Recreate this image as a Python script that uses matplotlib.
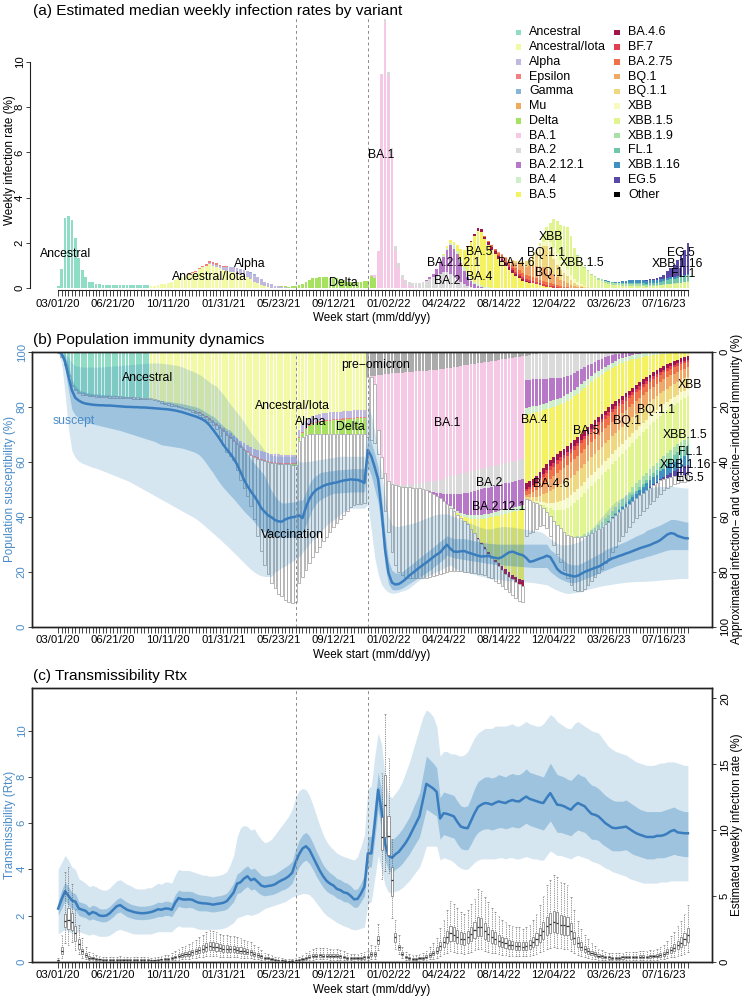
import numpy as np
import matplotlib
matplotlib.use("Agg")
import matplotlib.pyplot as plt
from matplotlib.patches import Rectangle

plt.rcParams['font.family'] = ['Liberation Sans', 'DejaVu Sans']

# ---------------------------------------------------------------- axes data
N_WEEKS = 184                       # weekly bins starting 03/01/20
TICK_WEEKS = [0, 16, 32, 48, 64, 80, 96, 112, 128, 144, 160, 176]
TICK_LABELS = ['03/01/20', '06/21/20', '10/11/20', '01/31/21', '05/23/21', '09/12/21',
               '01/02/22', '04/24/22', '08/14/22', '12/04/22', '03/26/23', '07/16/23']
ERA_LINES = [69, 90]

VARIANTS = ['Ancestral', 'Ancestral/Iota', 'Alpha', 'Epsilon', 'Gamma', 'Mu', 'Delta',
            'BA.1', 'BA.2', 'BA.2.12.1', 'BA.4', 'BA.5', 'BA.4.6', 'BF.7', 'BA.2.75',
            'BQ.1', 'BQ.1.1', 'XBB', 'XBB.1.5', 'XBB.1.9', 'FL.1', 'XBB.1.16', 'EG.5', 'Other']
VARIANT_COLORS = ['#8FDDC5', '#F3FAA5', '#C0B8DE', '#F28080', '#86B5D8', '#F0AA60', '#A6E260',
                  '#F5C8E5', '#DADADA', '#B878C8', '#CDF0CA', '#F4F260', '#A0154A', '#E04050',
                  '#F07048', '#F0A868', '#F0D880', '#F6FAC0', '#E0F590', '#A8E0A8', '#70C8A8',
                  '#4090C0', '#5848A8', '#000000']
PRE_OMICRON_COLOR = '#ABABAB'

# ---------------------------------------------------------------- (a) weekly infection rate by variant (%)
RATE_ANCESTRAL_START = 0
RATE_ANCESTRAL = [0.1, 0.85, 3.1, 3.2, 3.0, 2.2, 1.35, 0.8, 0.5, 0.3,
                  0.27, 0.2, 0.17, 0.15, 0.14, 0.14, 0.15, 0.15, 0.16, 0.15,
                  0.15, 0.15, 0.14, 0.15, 0.14, 0.15, 0.15]
RATE_ANC_IOTA_START = 27
RATE_ANC_IOTA = [0.1, 0.12, 0.15, 0.18, 0.2, 0.22, 0.28, 0.35, 0.45, 0.5,
                 0.55, 0.6, 0.67, 0.74, 0.84, 0.92, 1.0, 1.08, 1.0, 0.95,
                 0.88, 0.82, 0.78, 0.74, 0.72, 0.66, 0.6, 0.54, 0.48, 0.4,
                 0.3, 0.22, 0.15, 0.09, 0.05, 0.03]
RATE_EPSILON_START = 38
RATE_EPSILON = [0.02, 0.03, 0.04, 0.05, 0.06, 0.07, 0.08, 0.08, 0.07, 0.06, 0.05, 0.04, 0.03, 0.02, 0.01]
RATE_ALPHA_START = 44
RATE_ALPHA = [0.04, 0.07, 0.08, 0.11, 0.13, 0.16, 0.18, 0.21, 0.23, 0.25,
              0.26, 0.27, 0.29, 0.29, 0.27, 0.24, 0.19, 0.17, 0.14, 0.11,
              0.09, 0.07, 0.05, 0.03, 0.02]
RATE_GAMMA_START = 53
RATE_GAMMA = [0.01, 0.02, 0.02, 0.02, 0.02, 0.02, 0.01, 0.01, 0.01]
RATE_MU_START = 74
RATE_MU = [0.01, 0.01, 0.01, 0.01, 0.01, 0.01]
RATE_DELTA_START = 63
RATE_DELTA = [0.01, 0.02, 0.03, 0.03, 0.04, 0.06, 0.08, 0.14, 0.21, 0.29,
              0.37, 0.43, 0.46, 0.47, 0.47, 0.47, 0.46, 0.45, 0.44, 0.4,
              0.35, 0.3, 0.27, 0.25, 0.27, 0.3, 0.32, 0.34, 0.56, 0.45]
RATE_BA1_START = 91
RATE_BA1 = [0.02, 0.12, 1.63, 9.48, 11.75, 9.35, 5.95, 1.65, 0.9, 0.42, 0.2, 0.12, 0.07, 0.04, 0.02]
RATE_BA2_START = 95
RATE_BA2 = [0.15, 0.2, 0.25, 0.2, 0.2, 0.18, 0.15, 0.15, 0.15, 0.18,
            0.22, 0.27, 0.33, 0.4, 0.48, 0.55, 0.65, 0.7, 0.72, 0.65,
            0.55, 0.4, 0.28, 0.18, 0.1, 0.06, 0.03]
RATE_BA2121_START = 106
RATE_BA2121 = [0.03, 0.05, 0.1, 0.17, 0.28, 0.5, 0.7, 0.95, 1.25, 1.2,
               1.1, 0.85, 0.6, 0.4, 0.25, 0.15, 0.1, 0.05]
RATE_BA4_START = 110
RATE_BA4 = [0.02, 0.04, 0.06, 0.1, 0.12, 0.14, 0.16, 0.17, 0.17, 0.16,
            0.14, 0.12, 0.1, 0.08, 0.06, 0.04, 0.03]
RATE_BA5_START = 111
RATE_BA5 = [0.01, 0.04, 0.08, 0.13, 0.16, 0.24, 0.45, 0.75, 1.17, 1.6,
            2.02, 2.35, 2.35, 2.1, 1.89, 1.66, 1.5, 1.29, 1.14, 0.98,
            0.81, 0.69, 0.54, 0.46, 0.34, 0.28, 0.25, 0.22, 0.18, 0.14,
            0.1, 0.07, 0.05, 0.03, 0.02]
RATE_BA46_START = 119
RATE_BA46 = [0.02, 0.05, 0.08, 0.1, 0.12, 0.12, 0.13, 0.13, 0.14, 0.14,
             0.14, 0.13, 0.12, 0.11, 0.1, 0.08, 0.06, 0.05, 0.03, 0.02]
RATE_BF7_START = 126
RATE_BF7 = [0.02, 0.03, 0.05, 0.06, 0.07, 0.08, 0.08, 0.09, 0.09, 0.09,
            0.09, 0.09, 0.09, 0.09, 0.08, 0.08, 0.07, 0.06, 0.05, 0.04,
            0.03, 0.02, 0.01]
RATE_BA275_START = 124
RATE_BA275 = [0.02, 0.04, 0.06, 0.08, 0.1, 0.12, 0.14, 0.15, 0.16, 0.17,
              0.18, 0.18, 0.18, 0.18, 0.18, 0.17, 0.16, 0.15, 0.13, 0.11,
              0.09, 0.07, 0.05, 0.04, 0.03, 0.02, 0.01]
RATE_BQ1_START = 128
RATE_BQ1 = [0.02, 0.04, 0.06, 0.1, 0.15, 0.2, 0.25, 0.3, 0.35, 0.42,
            0.5, 0.55, 0.6, 0.62, 0.6, 0.55, 0.45, 0.37, 0.3, 0.25,
            0.2, 0.14, 0.09, 0.06, 0.04, 0.02, 0.01]
RATE_BQ11_START = 130
RATE_BQ11 = [0.02, 0.04, 0.06, 0.1, 0.14, 0.18, 0.24, 0.33, 0.44, 0.6,
             0.78, 0.9, 0.98, 0.88, 0.68, 0.55, 0.42, 0.36, 0.31, 0.22,
             0.14, 0.1, 0.07, 0.05, 0.04]
RATE_XBB_START = 138
RATE_XBB = [0.03, 0.06, 0.12, 0.2, 0.3, 0.4, 0.5, 0.5, 0.45, 0.38,
            0.3, 0.22, 0.15, 0.1, 0.06, 0.04, 0.02]
RATE_XBB15_START = 138
RATE_XBB15 = [0.02, 0.05, 0.12, 0.3, 0.55, 0.85, 1.25, 1.4, 1.55, 1.7,
              1.85, 1.7, 1.4, 1.17, 0.95, 0.8, 0.68, 0.59, 0.48, 0.38,
              0.31, 0.25, 0.2, 0.16, 0.14, 0.13, 0.12, 0.11, 0.11, 0.11,
              0.09, 0.1, 0.08, 0.07, 0.09, 0.09, 0.1, 0.13, 0.15, 0.17,
              0.19, 0.2, 0.22, 0.23, 0.26, 0.3]
RATE_XBB19_START = 150
RATE_XBB19 = [0.01, 0.02, 0.03, 0.04, 0.05, 0.06, 0.07, 0.07, 0.08, 0.08,
              0.08, 0.09, 0.09, 0.09, 0.09, 0.09, 0.09, 0.08, 0.08, 0.07,
              0.07, 0.06, 0.05, 0.05, 0.04, 0.03, 0.03, 0.02, 0.02, 0.02,
              0.01, 0.01, 0.01, 0.01]
RATE_FL1_START = 160
RATE_FL1 = [0.01, 0.01, 0.02, 0.02, 0.03, 0.04, 0.05, 0.05, 0.06, 0.07,
            0.08, 0.08, 0.09, 0.1, 0.11, 0.12, 0.14, 0.16, 0.18, 0.2,
            0.22, 0.24, 0.26, 0.28]
RATE_XBB116_START = 158
RATE_XBB116 = [0.01, 0.02, 0.03, 0.04, 0.05, 0.06, 0.08, 0.09, 0.1, 0.11,
               0.12, 0.13, 0.13, 0.13, 0.13, 0.12, 0.12, 0.11, 0.1, 0.1,
               0.09, 0.08, 0.08, 0.07, 0.07, 0.06]
RATE_EG5_START = 168
RATE_EG5 = [0.01, 0.01, 0.02, 0.03, 0.04, 0.06, 0.08, 0.11, 0.18, 0.3,
            0.42, 0.55, 0.72, 0.9, 1.1, 1.35]

# ---------------------------------------------------------------- (b) infection-induced immunity layers (% of population)
IMM_ANCESTRAL_START = 0
IMM_ANCESTRAL = [0.3, 1.5, 4.5, 8.4, 12, 13.5, 14.4, 15, 15.3, 15.5,
                 15.7, 15.8, 15.9, 16, 16, 16.1, 16.1, 16.2, 16.2, 16.3,
                 16.4, 16.4, 16.5, 16.5, 16.6, 16.7, 16.7]
IMM_ANC_IOTA_START = 27
IMM_ANC_IOTA = [16.8, 17.1, 17.5, 18.0, 18.4, 18.7, 19.0, 19.3, 19.6, 19.9,
                20.3, 20.7, 21.1, 21.5, 22.0, 22.6, 23.3, 24.0, 24.8, 25.7,
                26.7, 27.7, 28.7, 29.6, 30.5, 31.4, 32.3, 33.2, 34.0, 34.7,
                35.3, 35.8, 36.2, 36.5, 36.8, 37.0, 37.2, 37.3, 37.4, 37.4,
                37.4, 37.4, 37.4, 28.5, 26.5, 25.0, 24.0, 23.3, 22.8, 22.5,
                22.3, 22.1, 22.0, 21.9, 21.8, 21.7, 21.6, 21.5, 21.4, 21.3,
                21.2, 21.1, 21.0]
IMM_ALPHA_START = 44
IMM_ALPHA = [0.2, 0.3, 0.45, 0.6, 0.8, 1.0, 1.2, 1.4, 1.6, 1.8,
             2.0, 2.2, 2.35, 2.5, 2.6, 2.7, 2.8, 2.85, 2.9, 2.95,
             3.0, 3.0, 3.0, 3.0, 3.0, 3.0,
             2.6, 2.6, 2.6, 2.6, 2.6, 2.6, 2.6, 2.6, 2.6, 2.6,
             2.6, 2.6, 2.6, 2.6, 2.6, 2.6, 2.6, 2.6, 2.6, 2.6]
IMM_EPSILON_START = 38
IMM_EPSILON = [0.1, 0.15, 0.2, 0.25, 0.3, 0.35,
               0.4, 0.4, 0.4, 0.4, 0.4, 0.4, 0.4, 0.4, 0.4, 0.4,
               0.4, 0.4, 0.4, 0.4, 0.4, 0.4, 0.4, 0.4, 0.4, 0.4,
               0.4, 0.4, 0.4, 0.4, 0.4, 0.4, 0.4, 0.4, 0.4, 0.4,
               0.4, 0.4, 0.4, 0.4, 0.4, 0.4, 0.4, 0.4, 0.4, 0.4,
               0.4, 0.4, 0.4, 0.4, 0.4, 0.4]
IMM_DELTA_START = 66
IMM_DELTA = [0.1, 0.15, 0.25, 0.4, 0.8, 1.5, 2.3, 3.0, 3.6, 4.0,
             4.3, 4.5, 4.7, 4.9, 5.0, 5.1, 5.2, 5.3, 5.4, 5.5,
             5.6, 5.7, 5.8, 5.9]
IMM_PREOMICRON_START = 90
IMM_PREOMICRON = [9, 8.8, 8.6, 8.4, 8.2, 8, 7.9, 7.8, 7.7, 7.6,
                  7.5, 7.4, 7.3, 7.2, 7.1, 7, 6.9, 6.8, 6.7, 6.6,
                  6.5, 6.3, 6.1, 5.9, 5.7, 5.5, 5.3, 5.1, 4.9, 4.7,
                  4.5, 4.3, 4.1, 3.9, 3.7, 3.5, 3.3, 3.1, 2.9, 2.7,
                  2.5, 2.3, 2.1, 1.9, 1.7, 1.5, 1.3, 1.1, 0.9, 0.7,
                  0.5, 0.3, 0.1]
IMM_BA1_START = 91
IMM_BA1 = [0.3, 3, 20, 30, 36, 39, 40, 40.5, 40.8, 41,
           41, 41, 41, 41, 40.9, 40.8, 40.7, 40.6, 40.5, 40.4,
           40.2, 40, 39.8, 39.6, 39.5, 39.4, 39.3, 39.2, 39.1, 39,
           38.9, 38.8, 38.7, 38.6, 38.5, 38.4, 38.3, 38.2, 38.1, 38,
           37.9, 37.8, 37.7, 37.6, 37.5]
IMM_BA2_START = 95
IMM_BA2 = [0.1, 0.2, 0.3, 0.4, 0.5, 0.6, 0.8, 1.0, 1.2, 1.5,
           1.8, 2.2, 2.7, 3.2, 3.8, 4.4, 5.0, 5.6, 6.1, 6.5,
           6.8, 7.0, 7.2, 7.3, 7.4, 7.4, 7.4, 7.4, 7.4, 7.4,
           7.4, 7.4, 7.4, 7.4, 7.4, 7.4, 7.4, 7.4, 7.4, 7.4, 7.4,
           9, 9, 9, 9.2, 9.4, 9.5, 9.6, 9.6, 9.6, 9.5,
           9.4, 9.2, 8.8, 8.3, 7.7, 7, 6.3, 5.6, 4.9, 4.2,
           3.6, 3, 2.5, 2, 1.6, 1.2, 0.9, 0.6, 0.4, 0.2, 0.1]
IMM_BA2121_START = 106
IMM_BA2121 = [0.1, 0.2, 0.4, 0.7, 1.1, 1.7, 2.5, 3.4, 4.4, 5.4,
              6.3, 7.1, 7.7, 8.2, 8.6, 8.9, 9.1, 9.3, 9.4, 9.5,
              9.5, 9.5, 9.5, 9.5, 9.5, 9.5, 9.5, 9.5, 9.5, 9.5,
              10, 10, 9.8, 9.6, 9.3, 9, 8.7, 8.4, 8, 7.6,
              7.2, 6.9, 6.6, 6.3, 6, 5.7, 5.4, 5.1, 4.8, 4.5,
              4.2, 3.9, 3.6, 3.3, 3, 2.7, 2.4, 2.1, 1.8, 1.5,
              1.3, 1.1, 0.9, 0.7, 0.5, 0.4, 0.3, 0.2, 0.1]
IMM_BA4_START = 110
IMM_BA4 = [0.05, 0.1, 0.2, 0.3, 0.45, 0.6, 0.75, 0.9, 1.05, 1.2,
           1.3, 1.4, 1.5, 1.55, 1.6, 1.6, 1.6, 1.6, 1.6, 1.6,
           1.6, 1.6, 1.6, 1.6, 1.6, 1.6,
           2.5, 2.5, 2.5, 2.5, 2.5, 2.5, 2.5, 2.5, 2.5, 2.5, 2.5, 2.5, 2.5, 2.5, 2.5,
           2.45, 2.4, 2.35, 2.3, 2.25, 2.2, 2.15, 2.1, 2.05, 2.0,
           1.95, 1.9, 1.85, 1.8, 1.75, 1.7, 1.6, 1.5, 1.4, 1.3,
           1.2, 1.1, 1.0, 0.9, 0.8, 0.7, 0.6, 0.5, 0.45, 0.4, 0.35, 0.3, 0.3]
IMM_BA5_START = 113
IMM_BA5 = [0.05, 0.15, 0.3, 0.5, 0.8, 1.3, 2.0,
           3.5, 5, 6.8, 8.6, 10.4, 12.2, 14, 15.7, 17.3, 18.8,
           20.2, 21.5, 22.7, 23.8, 24.8, 25.6,
           25, 24.5, 24, 23, 22, 21, 20, 19, 18.3, 17.6,
           17, 16.7, 16.4, 16.2, 16, 15.9, 15.7, 15.5, 15.3, 15.1,
           14.9, 14.6, 14.3, 14, 13.6, 13.2, 12.8, 12.4, 12, 11.5,
           11, 10.3, 9.6, 8.9, 8.2, 7.5, 6.8, 6.2, 5.6, 5,
           4.4, 3.9, 3.4, 2.9, 2.4, 2, 1.6, 1.3]
IMM_BA46_START = 120
IMM_BA46 = [0.1, 0.2, 0.3, 0.45, 0.6, 0.75, 0.9, 1.05, 1.2, 1.35,
            1.5, 1.6, 1.7, 1.8, 1.9, 2.0,
            2.2, 2.2, 2.2, 2.2, 2.2, 2.2, 2.2, 2.2, 2.2, 2.2, 2.2, 2.2, 2.2, 2.2, 2.2,
            2.1, 2.1, 2.0, 2.0, 1.9, 1.9, 1.8, 1.8, 1.7, 1.7,
            1.7, 1.65, 1.6, 1.6, 1.6, 1.55, 1.55, 1.5, 1.5, 1.5,
            1.5, 1.45, 1.45, 1.4, 1.4, 1.35, 1.35, 1.3, 1.3, 1.25, 1.25, 1.2, 1.2]
IMM_BF7_START = 136
IMM_BF7 = [0.5, 0.6, 0.7, 0.8, 0.9, 1.0, 1.1, 1.2, 1.25, 1.25,
           1.25, 1.25, 1.25, 1.25, 1.25, 1.25, 1.25, 1.25, 1.25, 1.25, 1.25, 1.25, 1.25, 1.25, 1.25,
           1.2, 1.2, 1.2, 1.2, 1.2, 1.2, 1.2, 1.2, 1.2, 1.2,
           1.1, 1.1, 1.05, 1.05, 1.0, 1.0, 0.95, 0.95, 0.9, 0.9, 0.85, 0.85, 0.8]
IMM_BA275_START = 136
IMM_BA275 = [1.5, 1.7, 2.0, 2.3, 2.6, 2.9, 3.1, 3.3, 3.5, 3.5,
             3.5, 3.5, 3.5, 3.5, 3.5, 3.5, 3.5, 3.5, 3.5, 3.5, 3.5, 3.5, 3.5, 3.5, 3.5,
             3.4, 3.35, 3.3, 3.25, 3.2, 3.15, 3.1, 3.05, 3.0, 2.95,
             2.9, 2.8, 2.75, 2.7, 2.6, 2.5, 2.45, 2.4, 2.3, 2.25, 2.15, 2.1, 2.0]
IMM_BQ1_START = 136
IMM_BQ1 = [1.0, 1.4, 1.9, 2.4, 2.9, 3.4, 3.9, 4.3, 4.7, 5.0,
           5.2, 5.4, 5.5,
           5.5, 5.5, 5.5, 5.5, 5.5, 5.5, 5.5, 5.5, 5.5, 5.5, 5.5, 5.5,
           5.4, 5.35, 5.3, 5.2, 5.1, 5.0, 4.9, 4.8, 4.75, 4.7,
           4.6, 4.5, 4.45, 4.4, 4.3, 4.2, 4.1, 4.0, 3.9, 3.8, 3.7, 3.6, 3.5]
IMM_BQ11_START = 136
IMM_BQ11 = [0.5, 0.8, 1.2, 1.7, 2.3, 3.0, 3.7, 4.4, 5.0, 5.5,
            5.9, 6.2, 6.4, 6.5,
            6.5, 6.5, 6.5, 6.5, 6.5, 6.5, 6.5, 6.5, 6.5, 6.5, 6.5,
            6.4, 6.3, 6.2, 6.1, 6.0, 5.9, 5.8, 5.7, 5.6, 5.5,
            5.4, 5.3, 5.2, 5.1, 5.0, 4.9, 4.8, 4.7, 4.6, 4.5, 4.45, 4.4, 4.3]
IMM_XBB_START = 138
IMM_XBB = [0.2, 0.4, 0.7, 1.1, 1.6, 2.1, 2.6, 3.0, 3.3, 3.6, 3.8, 3.9,
           4.0, 4.0, 4.0, 4.0, 4.0, 3.95, 3.95, 3.9, 3.9, 3.85, 3.85, 3.8, 3.8, 3.75, 3.75, 3.7,
           3.65, 3.6, 3.55, 3.5, 3.45, 3.4, 3.35, 3.3, 3.25, 3.2, 3.15, 3.1, 3.05, 3.0, 2.95,
           2.9, 2.85, 2.8]
IMM_XBB15_START = 138
IMM_XBB15 = [0.1, 0.3, 0.6, 1.1, 1.8, 2.7, 3.9, 5.2, 6.6, 8.1,
             9.6, 11.0, 12.2, 13.3, 14.2, 15.0, 15.6, 16.1, 16.5, 16.8, 17.0,
             17.0, 16.9, 16.8, 16.7, 16.6, 16.5, 16.4, 16.3, 16.2, 16.1, 16.0, 16.0,
             15.9, 15.9, 15.8, 15.8, 15.7, 15.6, 15.5, 15.4, 15.3, 15.2, 15.1, 15.0, 15.0]
IMM_XBB19_START = 150
IMM_XBB19 = [0.1, 0.3, 0.5, 0.7, 0.9, 1.1, 1.3, 1.5, 1.7, 1.9,
             2.1, 2.2, 2.3, 2.4, 2.5, 2.6,
             2.6, 2.6, 2.65, 2.65, 2.7, 2.7, 2.7, 2.75, 2.75, 2.75,
             2.8, 2.8, 2.8, 2.8, 2.8, 2.8, 2.8, 2.8]
IMM_FL1_START = 160
IMM_FL1 = [0.05, 0.1, 0.2, 0.3, 0.4, 0.55, 0.7, 0.85, 1.0, 1.1,
           1.2, 1.3, 1.4, 1.5, 1.6, 1.7, 1.9, 2.1, 2.3, 2.5,
           2.7, 2.9, 3.05, 3.2]
IMM_XBB116_START = 158
IMM_XBB116 = [0.05, 0.1, 0.2, 0.3, 0.45, 0.6, 0.8, 1.0, 1.2, 1.4,
              1.6, 1.8, 2.0, 2.2, 2.4, 2.5, 2.6, 2.7, 2.9, 3.0,
              3.2, 3.3, 3.5, 3.6, 3.7, 3.8]
IMM_EG5_START = 168
IMM_EG5 = [0.05, 0.1, 0.15, 0.2, 0.3, 0.4, 0.5, 0.6, 0.8, 1.1,
           1.5, 1.9, 2.4, 2.9, 3.4, 3.8]

# lower end of the vaccination bars (susceptibility scale, %)
VACC_BOTTOM = [99.7, 98.3, 95.3, 91.3, 87.5, 86, 85.1, 84.5, 84.2, 84,
               83.8, 83.7, 83.6, 83.5, 83.5, 83.4, 83.4, 83.3, 83.3, 83.2,
               83.1, 83.1, 83, 83, 82.9, 82.8, 82.8, 82.7, 82.4, 82,
               81.5, 81.1, 80.8, 80.5, 80.2, 79.9, 79.6, 79.2, 78.7, 78.2,
               77.7, 77.1, 76.4, 75.6, 74.5, 73.5, 72, 69.5, 66, 63.5,
               62, 60.5, 57, 53.5, 50.5, 47.5, 44, 39, 33, 27.5,
               22.5, 19, 16, 14, 12, 11, 9.8, 9, 8.4, 9,
               15.7, 18, 20.6, 23, 25.4, 27.2, 29, 31, 32.7, 34.5,
               36.3, 37.8, 39, 40.5, 42, 43.5, 44.2, 44.5, 44.8, 45,
               69, 68, 67, 63, 54, 42, 34.6, 27.3, 22.4, 20,
               18.8, 18, 17.6, 17.5, 17.5, 17.5, 17.6, 17.8, 18.2, 18.5,
               18.8, 19.2, 19.6, 20, 20.2, 20.3, 20.3, 20.2, 20, 19.8,
               19.6, 19.4, 19.2, 19, 18.6, 18.2, 17.5, 16.7, 15.8, 14.8,
               13.7, 12.6, 11.5, 10.4, 9.4, 9, 33, 34, 34.6, 35.5,
               36.5, 37, 36, 33, 29.7, 26.5, 23.6, 20.5, 17.6, 15.2,
               13.3, 12.8, 12.8, 13.5, 15.2, 16.5, 18, 19.5, 21, 23,
               25, 27.3, 29, 31, 33, 34.6, 36.3, 38, 39.5, 40.7,
               42, 43.3, 44.5, 45.6, 47, 48.3, 49.6, 50.4, 51.2, 51.8,
               52.3, 52.6, 52.8, 53]

# population susceptibility (%): median, 50% and 95% intervals
SUS_MED = [100, 99.5, 96.5, 91, 86, 83.3, 82.3, 81.6, 81.2, 81,
           80.8, 80.7, 80.6, 80.6, 80.5, 80.5, 80.4, 80.3, 80.2, 80.1,
           80, 80, 79.9, 79.9, 79.8, 79.8, 79.7, 79.6, 79.5, 79.4,
           79.3, 79.2, 79.1, 78.9, 78.7, 78.4, 78.1, 77.7, 77.3, 76.9,
           76.5, 76, 75.4, 74.6, 73.3, 71.7, 70, 68.2, 66.2, 64.5,
           63, 61.2, 59, 56.3, 53.5, 51.2, 49.2, 47.5, 45.5, 43.2,
           41.8, 40.5, 39.8, 38.8, 38.3, 38.2, 39, 39.5, 39.8, 40,
           40.5, 39.5, 43.5, 46.5, 48.5, 49.8, 50.5, 51.2, 51.7, 52,
           52.3, 52.5, 52.9, 53.2, 53.4, 53.6, 53.5, 53.4, 53, 52.3,
           64.3, 62, 58, 53.5, 42, 28, 19.5, 16, 15.3, 15.5,
           16.3, 17.3, 18.5, 19.5, 20.5, 21.5, 22.4, 23.3, 24.3, 25.3,
           26.2, 27, 28.5, 29.8, 28.3, 27.3, 27.2, 27.4, 27.5, 27,
           26.6, 26.2, 25.8, 25.5, 25.6, 25.7, 25.3, 25, 24.8, 25.3,
           26.2, 27, 27.3, 26.8, 26.3, 26, 25, 23.6, 23.8, 24.3,
           24.8, 25.2, 25.8, 25.3, 23.2, 21, 19.8, 19.2, 18.8, 18.5,
           18.2, 18.5, 19.2, 19.9, 20.4, 20.9, 21.4, 21.8, 22.5, 23.3,
           24.1, 24.8, 25.2, 25.7, 26.1, 26.6, 27, 27.5, 28, 28.5,
           28.9, 29.3, 29.7, 30.3, 30.8, 31.5, 32.5, 33.5, 34, 33.8,
           33, 32.6, 32.2, 32.1]
SUS50_LO = [100, 98.5, 94, 86, 79, 77, 76, 75.3, 74.7, 74.2,
            73.8, 73.5, 73.2, 72.9, 72.6, 72.3, 72, 71.7, 71.4, 71,
            70.6, 70.2, 69.8, 69.4, 69, 68.6, 68.2, 67.8, 67.4, 66.8,
            66.2, 66, 65.8, 65.6, 65.4, 65.2, 65, 64.6, 64.2, 63.8,
            63.3, 62.5, 61.2, 59.5, 57.7, 56, 54, 52.2, 50.6, 49.2,
            47.8, 46.5, 45, 43.5, 42, 40.7, 39.5, 38, 36.5, 35.2,
            34.6, 33.8, 33.2, 32.8, 32.5, 32.5, 32.5, 32.5, 32.5, 32.5,
            33, 34, 37, 40, 43, 44.9, 46, 46.8, 47.4, 48,
            48.5, 48.6, 48.7, 48.8, 48.9, 49, 49, 49, 49, 49,
            58, 55, 50, 45, 35, 22, 15.5, 13.5, 13.3, 13.5,
            14, 14.8, 15.6, 16.4, 17.2, 18, 18.8, 19.6, 20.5, 21.5,
            22.5, 23.5, 24.5, 26, 25.5, 25, 24.8, 24.6, 24.4, 24.2,
            24, 23.8, 23.6, 23.4, 23.2, 23, 22.8, 22.6, 22.5, 22.4,
            22.3, 22.2, 22.1, 22, 21.9, 21.8, 21.7, 21.6, 21.5, 21.5,
            21.5, 21.5, 21.5, 20, 19, 18, 17.3, 16.7, 16.2, 16,
            16, 16.3, 16.8, 17.3, 17.8, 18.3, 18.8, 19.4, 20, 20.5,
            21, 21.5, 22, 22.4, 22.8, 23.2, 23.6, 24, 24.4, 24.7,
            25, 25.5, 25.8, 26.2, 26.6, 27, 27.4, 27.8, 28, 28,
            28, 28, 28, 28]
SUS50_HI = [100, 99.5, 98.5, 95, 90, 87.5, 86.3, 85.7, 85.3, 85,
            84.8, 84.7, 84.6, 84.5, 84.4, 84.3, 84.2, 84.1, 84, 83.9,
            83.8, 83.7, 83.6, 83.5, 83.4, 83.2, 83, 82.8, 82.6, 82.4,
            82.3, 82.1, 82, 81.8, 81.6, 81.4, 81.2, 80.9, 80.6, 80.3,
            80, 79.5, 78.8, 78, 77.2, 76.6, 75.5, 74.2, 73, 72,
            71.5, 70, 68.5, 66.8, 65, 63, 61, 59.5, 58, 56.5,
            55, 52, 49.5, 47.5, 46, 45, 45, 45.2, 45.3, 45.5,
            46, 46, 49, 52, 54, 55, 56, 56.3, 56.5, 56.7,
            56.8, 57, 57.1, 57.2, 57.3, 57.4, 57.5, 57.5, 57.5, 57.5,
            70, 67, 63, 58, 47, 34, 24, 20.5, 19.5, 19.5,
            20, 21, 22, 23, 24, 25, 26, 27, 28, 29,
            30, 31, 32, 33, 32.5, 32, 32, 32, 32, 31.8,
            31.5, 31.2, 31, 30.8, 30.5, 30.3, 30.2, 30.1, 30, 30,
            30, 30, 30, 30, 30, 30, 30, 30, 30, 30,
            30, 30, 30, 28, 27, 26, 25, 24, 23, 22.5,
            22.5, 22.5, 23, 23.7, 24.3, 25, 25.7, 26.4, 27, 28,
            28.5, 29, 29.5, 30, 30.5, 31, 31.7, 32.3, 33, 33.5,
            34, 35, 35.5, 36, 36.5, 37, 37.7, 38.3, 39, 39,
            38.8, 38.5, 38.2, 38]
SUS95_LO = [100, 96, 85, 72, 64, 61.5, 60.2, 59.5, 59, 58.5,
            58, 57.7, 57.2, 56.7, 56.2, 55.7, 55.2, 54.7, 54.2, 53.7,
            53.2, 52.6, 51.9, 51.2, 50.5, 49.8, 49.1, 48.4, 47.7, 47,
            46.3, 45.6, 44.9, 44.2, 43.5, 42.8, 42.1, 41.4, 40.7, 40,
            39.3, 38.3, 37.3, 36.2, 35.1, 34, 32.9, 31.8, 30.6, 29.4,
            28.2, 27, 25.8, 24.5, 23.2, 22, 20.8, 19.8, 19, 18.5,
            18.2, 18.2, 18.3, 19.9, 20.5, 21.5, 22, 23, 23.7, 24.5,
            25.4, 27, 28.5, 30, 31.6, 33, 34.2, 35.5, 36.8, 38,
            38.8, 39.8, 40.8, 41.8, 42.5, 43.1, 43.1, 43.1, 43.1, 43.1,
            44.4, 35, 25, 19, 15.2, 13.5, 12.5, 12.1, 12.2, 12.5,
            13, 13.3, 14, 15, 16, 17, 17.6, 18.2, 18.8, 19.4,
            20, 20.6, 21.2, 22, 22.4, 21.5, 20.8, 20.3, 20, 19.6,
            19.3, 19, 18.5, 18.3, 18, 17.6, 17.3, 17.2, 17.1, 17,
            16.8, 16.6, 16.5, 16.4, 16.3, 16.3, 16.2, 16.1, 16, 15.8,
            15.6, 15.4, 15.2, 14.5, 13.8, 13.2, 12.7, 12.3, 12, 12.1,
            12.3, 12.5, 12.6, 13.3, 13.6, 13.9, 14.2, 14.5, 14.8, 15,
            15.2, 15.4, 15.6, 15.8, 16, 16.1, 16.2, 16.3, 16.4, 16.4,
            16.4, 16.5, 16.6, 16.7, 16.8, 16.9, 17, 17.1, 17.2, 17.3,
            17.4, 17.5, 17.5, 17.5]
SUS95_HI = [100, 100, 99.5, 98, 96, 95, 94.7, 94.5, 94.5, 94.5,
            94.5, 94.5, 94.5, 94.6, 94.7, 94.8, 94.9, 95, 95.1, 95.2,
            95.3, 95.4, 95.5, 95.6, 95.7, 95.8, 95.9, 96, 96, 96,
            95.9, 95.8, 95.6, 95.4, 95.2, 95, 94.6, 94, 93.5, 93,
            92.5, 91.8, 91, 90, 89, 88.2, 87.5, 86, 84.5, 82.8,
            81, 79.5, 78, 76.3, 74.5, 72.5, 70.5, 69, 67.5, 65.8,
            64, 63.2, 62.5, 62.2, 62, 62, 62, 62, 62, 62,
            60, 60, 60, 60.2, 60.4, 60.6, 60.8, 61, 61.2, 61.4,
            61.6, 61.8, 62, 62, 62, 62, 62, 62, 62, 62,
            81, 77, 71, 64, 56, 47, 40, 37, 36.5, 36.5,
            36.8, 37, 37.3, 37.6, 38, 38.5, 39, 39.5, 40, 40.5,
            40.8, 41, 41, 41, 40.5, 40, 39.5, 39, 38.5, 38,
            37.5, 37, 36.5, 36, 35.7, 35.5, 35.7, 36, 36.2, 36.4,
            36.4, 36.3, 36.2, 36, 35.8, 35.6, 35.4, 35.2, 35, 34.8,
            34.6, 34, 33, 32, 31, 30.3, 29.8, 29.7, 29.8, 30,
            30.3, 30.7, 31.3, 32.5, 34, 35.5, 37, 38.5, 40, 41.5,
            43, 44.3, 45.5, 46.3, 47, 47.8, 48.5, 49, 49.5, 50,
            50.3, 50.5, 50.7, 50.8, 50.9, 51, 51, 51, 51, 51,
            50.8, 50.6, 50.5, 50.4]

# ---------------------------------------------------------------- (c) transmissibility Rtx
RTX_MED = [2.3, 2.7, 3.05, 2.85, 2.65, 2.6, 2.3, 2.25, 2.2, 2.05,
           2.15, 2.1, 2.0, 1.98, 2.0, 2.1, 2.25, 2.4, 2.45, 2.35,
           2.25, 2.2, 2.15, 2.12, 2.1, 2.1, 2.12, 2.15, 2.2, 2.27,
           2.25, 2.3, 2.3, 2.25, 2.55, 2.76, 2.7, 2.69, 2.7, 2.68,
           2.6, 2.55, 2.53, 2.52, 2.5, 2.47, 2.5, 2.52, 2.55, 2.62,
           2.8, 3.0, 3.38, 3.44, 3.6, 3.7, 3.53, 3.59, 3.45, 3.3,
           3.25, 3.28, 3.3, 3.35, 3.45, 3.53, 3.6, 3.7, 3.85, 4.3,
           4.65, 4.9, 5.0, 4.85, 4.55, 4.25, 3.95, 3.7, 3.5, 3.38,
           3.3, 3.15, 3.1, 3.0, 2.97, 2.85, 2.7, 2.72, 2.95, 3.25,
           4.69, 4.69, 6.0, 7.45, 6.5, 5.1, 4.6, 4.5, 4.65, 4.76,
           4.95, 5.15, 5.4, 5.7, 6.0, 6.3, 7.0, 7.7, 7.6, 7.5,
           7.35, 6.2, 6.43, 6.4, 6.35, 6.29, 6.05, 5.85, 5.8, 5.78,
           6.1, 6.43, 6.7, 6.8, 6.87, 6.85, 6.8, 6.88, 6.94, 6.9,
           6.87, 6.95, 7.0, 6.95, 6.94, 7.05, 7.15, 7.05, 7.0, 6.95,
           6.9, 6.87, 7.1, 7.3, 7.05, 6.8, 6.78, 6.73, 6.65, 6.58,
           6.75, 6.87, 6.8, 6.73, 6.55, 6.4, 6.36, 6.29, 6.15, 6.0,
           5.9, 5.8, 5.78, 5.8, 5.82, 5.85, 5.75, 5.65, 5.56, 5.5,
           5.45, 5.4, 5.4, 5.4, 5.45, 5.45, 5.48, 5.55, 5.65, 5.7,
           5.6, 5.58, 5.56, 5.56]
RTX50_LO = [2.0, 2.3, 2.65, 2.45, 2.3, 2.25, 2.0, 1.95, 1.9, 1.8,
            1.85, 1.8, 1.75, 1.72, 1.74, 1.83, 1.95, 2.1, 2.15, 2.05,
            1.95, 1.9, 1.85, 1.83, 1.82, 1.82, 1.84, 1.86, 1.9, 1.95,
            1.95, 2.0, 2.0, 1.95, 2.2, 2.4, 2.35, 2.33, 2.35, 2.33,
            2.25, 2.2, 2.2, 2.2, 2.17, 2.15, 2.17, 2.2, 2.22, 2.28,
            2.43, 2.6, 2.95, 3.0, 3.15, 3.25, 3.1, 3.15, 3.0, 2.9,
            2.85, 2.88, 2.9, 2.95, 3.02, 3.1, 3.15, 3.25, 3.4, 3.8,
            4.1, 4.3, 4.4, 4.25, 4.0, 3.7, 3.45, 3.22, 3.05, 2.95,
            2.88, 2.75, 2.7, 2.6, 2.58, 2.48, 2.35, 2.37, 2.6, 2.85,
            4.1, 4.1, 5.3, 6.6, 5.6, 4.4, 3.95, 3.85, 4.0, 4.1,
            4.25, 4.45, 4.65, 4.9, 5.15, 5.4, 6.0, 6.6, 6.5, 6.4,
            6.3, 5.3, 5.5, 5.45, 5.4, 5.35, 5.1, 4.9, 4.85, 4.85,
            5.1, 5.4, 5.6, 5.7, 5.75, 5.75, 5.7, 5.75, 5.8, 5.8,
            5.75, 5.8, 5.85, 5.8, 5.8, 5.9, 6.0, 5.9, 5.85, 5.8,
            5.75, 5.7, 5.9, 6.1, 5.85, 5.6, 5.6, 5.55, 5.5, 5.45,
            5.6, 5.7, 5.65, 5.6, 5.45, 5.3, 5.3, 5.25, 5.1, 5.0,
            4.9, 4.8, 4.8, 4.8, 4.82, 4.85, 4.75, 4.65, 4.6, 4.55,
            4.5, 4.45, 4.45, 4.45, 4.5, 4.5, 4.5, 4.55, 4.6, 4.65,
            4.6, 4.58, 4.55, 4.55]
RTX50_HI = [2.6, 3.1, 3.45, 3.25, 3.0, 2.95, 2.6, 2.55, 2.5, 2.35,
            2.45, 2.4, 2.3, 2.28, 2.3, 2.4, 2.55, 2.7, 2.78, 2.68,
            2.58, 2.5, 2.45, 2.42, 2.4, 2.4, 2.42, 2.45, 2.5, 2.58,
            2.56, 2.62, 2.62, 2.56, 2.9, 3.1, 3.05, 3.05, 3.05, 3.03,
            2.95, 2.9, 2.88, 2.86, 2.84, 2.8, 2.84, 2.86, 2.9, 2.97,
            3.17, 3.4, 3.8, 3.9, 4.05, 4.15, 4.0, 4.05, 3.9, 3.75,
            3.7, 3.72, 3.75, 3.8, 3.9, 4.0, 4.1, 4.2, 4.35, 4.85,
            5.25, 5.5, 5.6, 5.45, 5.15, 4.8, 4.5, 4.2, 4.0, 3.85,
            3.75, 3.6, 3.55, 3.45, 3.4, 3.28, 3.12, 3.15, 3.4, 3.75,
            5.4, 5.45, 6.9, 8.2, 7.4, 5.9, 5.35, 5.25, 5.4, 5.55,
            5.75, 6.0, 6.25, 6.6, 6.95, 7.3, 8.1, 8.9, 8.75, 8.6,
            8.4, 7.1, 7.35, 7.3, 7.25, 7.2, 6.95, 6.75, 6.7, 6.75,
            7.1, 7.5, 7.8, 7.9, 8.0, 8.0, 7.95, 8.0, 8.1, 8.05,
            8.0, 8.1, 8.15, 8.1, 8.1, 8.2, 8.35, 8.2, 8.15, 8.1,
            8.05, 8.0, 8.3, 8.6, 8.35, 8.1, 8.05, 8.0, 7.9, 7.85,
            8.0, 8.15, 8.05, 8.0, 7.8, 7.65, 7.6, 7.5, 7.35, 7.2,
            7.1, 7.0, 6.95, 6.95, 6.95, 7.0, 6.9, 6.8, 6.7, 6.6,
            6.55, 6.5, 6.5, 6.5, 6.5, 6.5, 6.55, 6.6, 6.65, 6.7,
            6.6, 6.55, 6.5, 6.5]
RTX95_LO = [1.2, 1.3, 1.4, 1.3, 1.25, 1.25, 1.3, 1.25, 1.2, 1.15,
            1.2, 1.15, 1.1, 1.1, 1.1, 1.15, 1.25, 1.35, 1.4, 1.35,
            1.3, 1.25, 1.2, 1.2, 1.2, 1.2, 1.2, 1.2, 1.25, 1.3,
            1.3, 1.3, 1.3, 1.3, 1.45, 1.55, 1.5, 1.5, 1.5, 1.5,
            1.45, 1.4, 1.4, 1.4, 1.4, 1.4, 1.4, 1.42, 1.45, 1.5,
            1.6, 1.7, 1.9, 1.95, 2.0, 2.05, 2.0, 2.05, 2.1, 2.2,
            2.3, 2.35, 2.4, 2.45, 2.5, 2.55, 2.6, 2.7, 2.8, 2.85,
            2.9, 2.95, 2.95, 2.9, 2.75, 2.55, 2.35, 2.15, 2.0, 1.9,
            1.8, 1.7, 1.62, 1.55, 1.5, 1.42, 1.38, 1.4, 1.45, 1.5,
            2.5, 2.6, 3.6, 4.6, 4.0, 3.3, 3.0, 3.0, 3.05, 3.1,
            3.2, 3.35, 3.5, 3.7, 3.9, 4.1, 4.5, 5.0, 5.0, 5.0,
            5.0, 4.4, 4.5, 4.45, 4.4, 4.3, 4.15, 4.05, 4.0, 4.0,
            4.15, 4.3, 4.4, 4.45, 4.45, 4.45, 4.45, 4.45, 4.5, 4.5,
            4.45, 4.5, 4.5, 4.45, 4.45, 4.5, 4.55, 4.5, 4.45, 4.45,
            4.4, 4.4, 4.6, 4.8, 4.7, 4.6, 4.6, 4.55, 4.5, 4.45,
            4.55, 4.6, 4.55, 4.5, 4.45, 4.35, 4.3, 4.25, 4.15, 4.05,
            4.0, 3.9, 3.85, 3.8, 3.75, 3.7, 3.6, 3.55, 3.5, 3.45,
            3.4, 3.4, 3.4, 3.4, 3.4, 3.45, 3.45, 3.45, 3.5, 3.5,
            3.5, 3.5, 3.5, 3.5]
RTX95_HI = [4.0, 4.3, 4.6, 4.4, 4.1, 4.0, 3.6, 3.5, 3.4, 3.25,
            3.3, 3.25, 3.15, 3.1, 3.1, 3.2, 3.35, 3.5, 3.55, 3.45,
            3.35, 3.3, 3.2, 3.15, 3.15, 3.15, 3.2, 3.2, 3.3, 3.4,
            3.35, 3.45, 3.45, 3.4, 3.75, 4.0, 3.95, 3.95, 3.95, 3.9,
            3.85, 3.8, 3.75, 3.75, 3.7, 3.7, 3.72, 3.75, 3.8, 3.9,
            4.2, 4.6, 5.4, 5.8, 5.9, 5.85, 5.7, 5.75, 5.5, 5.3,
            5.15, 5.2, 5.3, 5.5, 5.7, 5.9, 6.1, 6.3, 6.6, 7.1,
            7.4, 7.5, 7.45, 7.2, 6.8, 6.35, 5.9, 5.5, 5.2, 5.0,
            4.85, 4.7, 4.62, 4.55, 4.5, 4.45, 4.4, 4.55, 5.0, 5.5,
            7.5, 7.6, 8.9, 9.9, 9.4, 8.0, 7.2, 7.1, 7.3, 7.5,
            7.8, 8.2, 8.6, 9.1, 9.6, 10.1, 10.6, 10.9, 10.8, 10.6,
            10.2, 8.9, 9.1, 9.1, 9.0, 9.0, 8.95, 8.9, 8.95, 9.1,
            9.4, 9.7, 9.9, 10.0, 10.1, 10.1, 10.1, 10.2, 10.2, 10.2,
            10.2, 10.25, 10.3, 10.2, 10.2, 10.3, 10.4, 10.3, 10.25, 10.2,
            10.2, 10.3, 10.5, 10.7, 10.6, 10.4, 10.3, 10.2, 10.1, 10.1,
            10.3, 10.4, 10.3, 10.2, 10.1, 10.0, 9.95, 9.9, 9.7, 9.5,
            9.3, 9.2, 9.1, 9.05, 9.0, 8.95, 8.85, 8.75, 8.65, 8.6,
            8.55, 8.5, 8.5, 8.5, 8.55, 8.6, 8.6, 8.65, 8.65, 8.65,
            8.6, 8.55, 8.5, 8.5]

# weekly infection-rate distribution (%): median, quartiles, whisker ends
RATE_MED = [0.1, 0.85, 3.1, 3.2, 3.0, 2.2, 1.35, 0.8, 0.5, 0.3,
            0.27, 0.2, 0.17, 0.15, 0.14, 0.14, 0.15, 0.15, 0.16, 0.15,
            0.15, 0.15, 0.14, 0.15, 0.14, 0.15, 0.15, 0.1, 0.12, 0.15,
            0.18, 0.2, 0.22, 0.28, 0.35, 0.45, 0.5, 0.55, 0.62, 0.7,
            0.78, 0.9, 1.0, 1.1, 1.2, 1.15, 1.1, 1.05, 1.0, 0.98,
            0.95, 0.95, 0.9, 0.85, 0.8, 0.75, 0.7, 0.6, 0.5, 0.4,
            0.3, 0.25, 0.2, 0.15, 0.12, 0.1, 0.08, 0.07, 0.08, 0.1,
            0.15, 0.22, 0.3, 0.38, 0.44, 0.47, 0.48, 0.47, 0.47, 0.46,
            0.45, 0.44, 0.4, 0.35, 0.3, 0.27, 0.25, 0.27, 0.3, 0.32,
            0.35, 0.58, 0.57, 1.65, 9.5, 11.9, 9.55, 6.2, 1.85, 1.1,
            0.6, 0.35, 0.27, 0.22, 0.22, 0.25, 0.3, 0.38, 0.5, 0.65,
            0.85, 1.2, 1.5, 1.85, 2.15, 2.05, 1.9, 1.75, 1.7, 1.85,
            2.1, 2.4, 2.65, 2.6, 2.3, 2.1, 1.9, 1.75, 1.6, 1.5,
            1.4, 1.3, 1.25, 1.2, 1.2, 1.15, 1.2, 1.3, 1.5, 1.7,
            2.0, 2.35, 2.7, 2.9, 3.05, 2.95, 2.8, 2.75, 2.7, 2.3,
            1.8, 1.45, 1.15, 0.95, 0.8, 0.65, 0.55, 0.45, 0.4, 0.35,
            0.32, 0.3, 0.3, 0.3, 0.32, 0.33, 0.35, 0.35, 0.36, 0.38,
            0.38, 0.37, 0.4, 0.42, 0.45, 0.5, 0.6, 0.75, 0.9, 1.05,
            1.25, 1.45, 1.7, 2.0]
RATE_Q1 = [0.07, 0.6, 2.6, 2.5, 2.4, 1.6, 1.0, 0.6, 0.38, 0.23,
           0.2, 0.15, 0.13, 0.11, 0.1, 0.1, 0.11, 0.11, 0.12, 0.11,
           0.11, 0.11, 0.1, 0.11, 0.1, 0.11, 0.11, 0.07, 0.09, 0.11,
           0.13, 0.15, 0.16, 0.21, 0.26, 0.34, 0.37, 0.41, 0.46, 0.52,
           0.58, 0.67, 0.75, 0.82, 0.9, 0.86, 0.82, 0.78, 0.75, 0.73,
           0.71, 0.71, 0.67, 0.63, 0.6, 0.56, 0.52, 0.45, 0.37, 0.3,
           0.22, 0.19, 0.15, 0.11, 0.09, 0.07, 0.06, 0.05, 0.06, 0.07,
           0.11, 0.16, 0.22, 0.28, 0.33, 0.35, 0.36, 0.35, 0.35, 0.34,
           0.33, 0.33, 0.3, 0.26, 0.22, 0.2, 0.19, 0.2, 0.22, 0.24,
           0.26, 0.43, 0.42, 1.35, 8.5, 9.5, 8.1, 5.0, 1.5, 0.9,
           0.48, 0.27, 0.2, 0.16, 0.16, 0.19, 0.22, 0.28, 0.38, 0.49,
           0.64, 0.9, 1.13, 1.39, 1.61, 1.54, 1.43, 1.31, 1.28, 1.39,
           1.58, 1.8, 1.99, 1.95, 1.73, 1.58, 1.43, 1.31, 1.2, 1.13,
           1.05, 0.98, 0.94, 0.9, 0.9, 0.86, 0.9, 0.98, 1.13, 1.28,
           1.5, 1.76, 2.03, 2.18, 2.29, 2.21, 2.1, 2.06, 2.03, 1.73,
           1.35, 1.09, 0.86, 0.71, 0.6, 0.49, 0.41, 0.34, 0.3, 0.26,
           0.24, 0.23, 0.23, 0.23, 0.24, 0.25, 0.26, 0.26, 0.27, 0.29,
           0.29, 0.28, 0.3, 0.32, 0.34, 0.38, 0.45, 0.56, 0.68, 0.79,
           0.94, 1.09, 1.28, 1.5]
RATE_Q3 = [0.14, 1.1, 3.6, 4.1, 3.7, 2.7, 1.7, 1.0, 0.65, 0.4,
           0.35, 0.26, 0.22, 0.2, 0.18, 0.18, 0.19, 0.19, 0.21, 0.19,
           0.19, 0.19, 0.18, 0.19, 0.18, 0.19, 0.19, 0.13, 0.16, 0.19,
           0.23, 0.26, 0.28, 0.36, 0.45, 0.58, 0.64, 0.7, 0.79, 0.89,
           0.99, 1.14, 1.27, 1.39, 1.52, 1.46, 1.4, 1.33, 1.27, 1.24,
           1.2, 1.2, 1.14, 1.08, 1.02, 0.95, 0.89, 0.76, 0.64, 0.51,
           0.38, 0.32, 0.26, 0.19, 0.15, 0.13, 0.1, 0.09, 0.1, 0.13,
           0.19, 0.28, 0.38, 0.48, 0.56, 0.6, 0.61, 0.6, 0.6, 0.58,
           0.57, 0.56, 0.51, 0.45, 0.38, 0.34, 0.32, 0.34, 0.38, 0.41,
           0.45, 0.74, 0.72, 1.95, 11.0, 14.2, 11.1, 7.2, 2.2, 1.3,
           0.72, 0.43, 0.34, 0.28, 0.28, 0.32, 0.38, 0.48, 0.64, 0.83,
           1.08, 1.52, 1.9, 2.35, 2.73, 2.6, 2.41, 2.22, 2.16, 2.35,
           2.67, 3.05, 3.37, 3.3, 2.92, 2.67, 2.41, 2.22, 2.03, 1.9,
           1.78, 1.65, 1.59, 1.52, 1.52, 1.46, 1.52, 1.65, 1.9, 2.16,
           2.54, 2.98, 3.43, 3.68, 3.87, 3.75, 3.56, 3.49, 3.43, 2.92,
           2.29, 1.84, 1.46, 1.21, 1.02, 0.83, 0.7, 0.57, 0.51, 0.44,
           0.41, 0.38, 0.38, 0.38, 0.41, 0.42, 0.44, 0.44, 0.46, 0.48,
           0.48, 0.47, 0.51, 0.53, 0.57, 0.64, 0.76, 0.95, 1.14, 1.33,
           1.59, 1.84, 2.16, 2.54]
RATE_WLO = [0.03, 0.3, 1.4, 1.3, 1.5, 0.9, 0.55, 0.3, 0.2, 0.12,
            0.1, 0.07, 0.06, 0.05, 0.05, 0.05, 0.05, 0.05, 0.06, 0.05,
            0.05, 0.05, 0.05, 0.05, 0.05, 0.05, 0.05, 0.03, 0.04, 0.05,
            0.06, 0.07, 0.08, 0.1, 0.13, 0.16, 0.18, 0.2, 0.22, 0.25,
            0.28, 0.32, 0.36, 0.4, 0.44, 0.42, 0.4, 0.38, 0.36, 0.35,
            0.34, 0.34, 0.32, 0.3, 0.29, 0.27, 0.25, 0.22, 0.18, 0.14,
            0.11, 0.09, 0.07, 0.05, 0.04, 0.03, 0.03, 0.02, 0.03, 0.03,
            0.05, 0.08, 0.11, 0.14, 0.16, 0.17, 0.17, 0.17, 0.17, 0.16,
            0.16, 0.16, 0.14, 0.13, 0.11, 0.1, 0.09, 0.1, 0.11, 0.12,
            0.13, 0.21, 0.2, 0.9, 6.3, 6.9, 6.7, 3.3, 1.0, 0.55,
            0.28, 0.15, 0.1, 0.08, 0.08, 0.09, 0.11, 0.14, 0.18, 0.24,
            0.31, 0.44, 0.55, 0.67, 0.78, 0.74, 0.69, 0.63, 0.61, 0.67,
            0.76, 0.86, 0.95, 0.94, 0.83, 0.76, 0.68, 0.63, 0.58, 0.54,
            0.5, 0.47, 0.45, 0.43, 0.43, 0.41, 0.43, 0.47, 0.54, 0.61,
            0.72, 0.85, 0.97, 1.04, 1.1, 1.06, 1.01, 0.99, 0.97, 0.83,
            0.65, 0.52, 0.41, 0.34, 0.29, 0.23, 0.2, 0.16, 0.14, 0.13,
            0.12, 0.11, 0.11, 0.11, 0.12, 0.12, 0.13, 0.13, 0.13, 0.14,
            0.14, 0.13, 0.14, 0.15, 0.16, 0.18, 0.22, 0.27, 0.32, 0.38,
            0.45, 0.52, 0.61, 0.72]
RATE_WHI = [0.3, 2.0, 6.8, 7.2, 5.9, 4.0, 2.8, 1.8, 1.15, 0.75,
            0.65, 0.5, 0.42, 0.38, 0.36, 0.36, 0.38, 0.38, 0.4, 0.38,
            0.38, 0.38, 0.36, 0.38, 0.36, 0.38, 0.38, 0.28, 0.32, 0.38,
            0.44, 0.48, 0.52, 0.64, 0.78, 0.98, 1.08, 1.18, 1.32, 1.48,
            1.64, 1.88, 2.06, 2.24, 2.42, 2.34, 2.24, 2.14, 2.06, 2.02,
            1.96, 1.96, 1.88, 1.78, 1.68, 1.58, 1.48, 1.28, 1.08, 0.88,
            0.68, 0.58, 0.48, 0.38, 0.32, 0.28, 0.24, 0.22, 0.24, 0.28,
            0.38, 0.52, 0.68, 0.84, 0.96, 1.02, 1.04, 1.02, 1.02, 1.0,
            0.98, 0.96, 0.88, 0.78, 0.68, 0.62, 0.58, 0.62, 0.68, 0.72,
            0.78, 1.24, 1.22, 2.9, 14.3, 18.8, 15.5, 9.3, 3.2, 2.0,
            1.15, 0.72, 0.6, 0.5, 0.5, 0.56, 0.68, 0.84, 1.08, 1.4,
            1.82, 2.56, 3.2, 3.95, 4.6, 4.4, 4.1, 3.75, 3.65, 3.95,
            4.4, 4.8, 5.5, 5.4, 4.9, 4.5, 4.1, 3.75, 3.45, 3.2,
            3.0, 2.8, 2.7, 2.6, 2.6, 2.5, 2.6, 2.8, 3.2, 3.65,
            4.3, 5.0, 5.8, 6.2, 6.6, 6.4, 6.05, 5.95, 5.8, 4.95,
            3.9, 3.1, 2.5, 2.05, 1.72, 1.4, 1.18, 0.97, 0.86, 0.75,
            0.69, 0.65, 0.65, 0.65, 0.69, 0.71, 0.75, 0.75, 0.77, 0.82,
            0.82, 0.8, 0.86, 0.9, 0.97, 1.08, 1.3, 1.6, 1.95, 2.25,
            2.7, 3.1, 3.65, 4.3]

# ---------------------------------------------------------------- helpers
weeks = np.arange(N_WEEKS)


def padded(start, vals, name):
    vals = np.asarray(vals, float)
    assert start + len(vals) <= N_WEEKS, f"{name}: {start}+{len(vals)} > {N_WEEKS}"
    arr = np.zeros(N_WEEKS)
    arr[start:start + len(vals)] = vals
    return arr


def full_series(vals, name):
    assert len(vals) == N_WEEKS, f"{name} has {len(vals)} values"
    return np.asarray(vals, float)


color_of = dict(zip(VARIANTS, VARIANT_COLORS))
color_of['pre-omicron'] = PRE_OMICRON_COLOR

RATE_TABLE = [('Ancestral', RATE_ANCESTRAL_START, RATE_ANCESTRAL),
              ('Ancestral/Iota', RATE_ANC_IOTA_START, RATE_ANC_IOTA),
              ('Alpha', RATE_ALPHA_START, RATE_ALPHA),
              ('Epsilon', RATE_EPSILON_START, RATE_EPSILON),
              ('Gamma', RATE_GAMMA_START, RATE_GAMMA),
              ('Mu', RATE_MU_START, RATE_MU),
              ('Delta', RATE_DELTA_START, RATE_DELTA),
              ('BA.1', RATE_BA1_START, RATE_BA1),
              ('BA.2', RATE_BA2_START, RATE_BA2),
              ('BA.2.12.1', RATE_BA2121_START, RATE_BA2121),
              ('BA.4', RATE_BA4_START, RATE_BA4),
              ('BA.5', RATE_BA5_START, RATE_BA5),
              ('BA.4.6', RATE_BA46_START, RATE_BA46),
              ('BF.7', RATE_BF7_START, RATE_BF7),
              ('BA.2.75', RATE_BA275_START, RATE_BA275),
              ('BQ.1', RATE_BQ1_START, RATE_BQ1),
              ('BQ.1.1', RATE_BQ11_START, RATE_BQ11),
              ('XBB', RATE_XBB_START, RATE_XBB),
              ('XBB.1.5', RATE_XBB15_START, RATE_XBB15),
              ('XBB.1.9', RATE_XBB19_START, RATE_XBB19),
              ('FL.1', RATE_FL1_START, RATE_FL1),
              ('XBB.1.16', RATE_XBB116_START, RATE_XBB116),
              ('EG.5', RATE_EG5_START, RATE_EG5)]

IMM_TABLE = [('Ancestral', IMM_ANCESTRAL_START, IMM_ANCESTRAL),
             ('Ancestral/Iota', IMM_ANC_IOTA_START, IMM_ANC_IOTA),
             ('Alpha', IMM_ALPHA_START, IMM_ALPHA),
             ('Epsilon', IMM_EPSILON_START, IMM_EPSILON),
             ('Delta', IMM_DELTA_START, IMM_DELTA),
             ('pre-omicron', IMM_PREOMICRON_START, IMM_PREOMICRON),
             ('BA.1', IMM_BA1_START, IMM_BA1),
             ('BA.2', IMM_BA2_START, IMM_BA2),
             ('BA.2.12.1', IMM_BA2121_START, IMM_BA2121),
             ('BA.4', IMM_BA4_START, IMM_BA4),
             ('BA.5', IMM_BA5_START, IMM_BA5),
             ('BA.4.6', IMM_BA46_START, IMM_BA46),
             ('BF.7', IMM_BF7_START, IMM_BF7),
             ('BA.2.75', IMM_BA275_START, IMM_BA275),
             ('BQ.1', IMM_BQ1_START, IMM_BQ1),
             ('BQ.1.1', IMM_BQ11_START, IMM_BQ11),
             ('XBB', IMM_XBB_START, IMM_XBB),
             ('XBB.1.5', IMM_XBB15_START, IMM_XBB15),
             ('XBB.1.9', IMM_XBB19_START, IMM_XBB19),
             ('FL.1', IMM_FL1_START, IMM_FL1),
             ('XBB.1.16', IMM_XBB116_START, IMM_XBB116),
             ('EG.5', IMM_EG5_START, IMM_EG5)]

# ---------------------------------------------------------------- figure layout (pixel boxes)
FIG_W, FIG_H = 744, 999
fig = plt.figure(figsize=(FIG_W / 100, FIG_H / 100), dpi=100)
fig.patch.set_facecolor('white')


def rect(x0, y0, x1, y1):
    return [x0 / FIG_W, 1 - y1 / FIG_H, (x1 - x0) / FIG_W, (y1 - y0) / FIG_H]


XLIM = (-7.6, 190)
BLUE_TXT = '#4A8CC8'
LINE_BLUE = '#3A7DBE'
BAND_BLUE = '#3182BD'
TICK_FS = 8.2
LABEL_FS = 8.8
DASH_KW = dict(color='#8a8a8a', lw=0.7, ls=(0, (3, 3)), zorder=6)


def style_xaxis(ax, pad):
    ax.set_xlim(XLIM)
    ax.set_xticks(TICK_WEEKS)
    ax.set_xticklabels(TICK_LABELS)
    ax.set_xticks(weeks, minor=True)
    ax.tick_params(axis='x', which='both', length=4.2, width=0.6, direction='out',
                   labelsize=TICK_FS, pad=pad, color='#222')


def rotate_ylabels(ax, side, color='black'):
    for lab in ax.get_yticklabels():
        lab.set_rotation(90)
        lab.set_va('center')
        lab.set_ha('right' if side == 'left' else 'left')
        lab.set_color(color)


# ================================================================= (a)
axA = fig.add_axes(rect(32, 16, 712, 290))
axA.set_ylim(-0.075, 12.02)
stack = np.zeros(N_WEEKS)
for name, start, vals in RATE_TABLE:
    v = padded(start, vals, 'rate ' + name)
    axA.bar(weeks, v, bottom=stack, width=0.8, color=color_of[name], linewidth=0, zorder=2)
    stack += v
for x in ERA_LINES:
    axA.axvline(x, **DASH_KW)
for s in ('top', 'right'):
    axA.spines[s].set_visible(False)
axA.spines['left'].set_bounds(0, 10)
axA.spines['left'].set_position(('outward', 1.5))
axA.spines['bottom'].set_bounds(0, N_WEEKS - 1)
for s in ('left', 'bottom'):
    axA.spines[s].set_linewidth(0.8)
    axA.spines[s].set_color('#222')
style_xaxis(axA, 2.2)
axA.set_yticks([0, 2, 4, 6, 8, 10])
axA.tick_params(axis='y', length=3.2, width=0.6, labelsize=TICK_FS, pad=0.5, color='#222')
rotate_ylabels(axA, 'left')

LABELS_A = [('Ancestral', 2.3, 1.5), ('Ancestral/Iota', 44, 0.49), ('Alpha', 55.8, 1.08),
            ('Delta', 82.8, 0.25), ('BA.1', 93.8, 5.9), ('BA.2.12.1', 115, 1.1),
            ('BA.2', 113, 0.32), ('BA.5', 122.3, 1.6), ('BA.4', 122.3, 0.51),
            ('BA.4.6', 133, 1.13), ('BQ.1.1', 141.8, 1.57), ('BQ.1', 142.6, 0.69),
            ('XBB', 143.2, 2.25), ('XBB.1.5', 152.3, 1.1), ('EG.5', 181, 1.55),
            ('XBB.1.16', 180, 1.07), ('FL.1', 181.6, 0.62)]
for t, x, y in LABELS_A:
    axA.text(x, y, t, ha='center', va='center', fontsize=LABEL_FS, zorder=8)

# ================================================================= (b)
axB = fig.add_axes(rect(32, 352, 712, 626.5))
axB.set_ylim(0, 100)
top = np.full(N_WEEKS, 100.0)
for name, start, vals in IMM_TABLE:
    v = padded(start, vals, 'imm ' + name)
    axB.bar(weeks, -v, bottom=top, width=0.8, color=color_of[name], linewidth=0, zorder=1)
    top -= v
vacc_bottom = full_series(VACC_BOTTOM, 'VACC_BOTTOM')
axB.bar(weeks, np.clip(top - vacc_bottom, 0, None), bottom=vacc_bottom, width=0.8,
        facecolor='white', edgecolor='#9a9a9a', linewidth=0.5, zorder=1.5)
axB.fill_between(weeks, full_series(SUS95_LO, 'SUS95_LO'), full_series(SUS95_HI, 'SUS95_HI'),
                 color=BAND_BLUE, alpha=0.2, lw=0, zorder=2)
axB.fill_between(weeks, full_series(SUS50_LO, 'SUS50_LO'), full_series(SUS50_HI, 'SUS50_HI'),
                 color=BAND_BLUE, alpha=0.34, lw=0, zorder=2.1)
axB.plot(weeks, full_series(SUS_MED, 'SUS_MED'), color=LINE_BLUE, lw=1.8, zorder=3,
         solid_capstyle='round')
for x in ERA_LINES:
    axB.axvline(x, **DASH_KW)
style_xaxis(axB, 1.8)
axB.set_yticks([0, 20, 40, 60, 80, 100])
axB.tick_params(axis='y', length=3.2, width=0.6, labelsize=TICK_FS, pad=0.5, color='#222')
rotate_ylabels(axB, 'left', BLUE_TXT)
axB2 = axB.twinx()
axB2.set_ylim(100, 0)
axB2.set_yticks([0, 20, 40, 60, 80, 100])
axB2.tick_params(axis='y', length=3.2, width=0.6, labelsize=TICK_FS, pad=2.5, color='#222')
rotate_ylabels(axB2, 'right')
for ax in (axB, axB2):
    for s in ax.spines.values():
        s.set_linewidth(1.0)
        s.set_color('#222')

LABELS_B = [('Ancestral', 25.9, 90.6), ('Ancestral/Iota', 68.1, 80.5), ('Alpha', 73.3, 74.5),
            ('Delta', 85, 72.6), ('pre\u2212omicron', 92.1, 95.2), ('BA.1', 113.1, 74.2),
            ('BA.2', 125.2, 52.2), ('BA.2.12.1', 128.1, 43.4), ('BA.4', 138.3, 75.1),
            ('BA.5', 153.3, 71.1), ('BA.4.6', 143.4, 52), ('BQ.1', 165.2, 74.7),
            ('BQ.1.1', 173.7, 79), ('XBB', 183.6, 87.8), ('XBB.1.5', 182.3, 69.8),
            ('FL.1', 183.6, 63.7), ('XBB.1.16', 182.3, 58.9), ('EG.5', 183.6, 54),
            ('Vaccination', 68, 33.4)]
for t, x, y in LABELS_B:
    axB.text(x, y, t, ha='center', va='center', fontsize=LABEL_FS, zorder=8)
axB.text(4.4, 75, 'suscept', ha='center', va='center', fontsize=LABEL_FS, color=BLUE_TXT, zorder=8)

# ================================================================= (c)
axC = fig.add_axes(rect(32, 688, 712, 961.7))
axC.set_ylim(0, 11.85)
axC.fill_between(weeks, full_series(RTX95_LO, 'RTX95_LO'), full_series(RTX95_HI, 'RTX95_HI'),
                 color=BAND_BLUE, alpha=0.2, lw=0, zorder=2)
axC.fill_between(weeks, full_series(RTX50_LO, 'RTX50_LO'), full_series(RTX50_HI, 'RTX50_HI'),
                 color=BAND_BLUE, alpha=0.34, lw=0, zorder=2.1)
axC.plot(weeks, full_series(RTX_MED, 'RTX_MED'), color=LINE_BLUE, lw=1.8, zorder=3)
for x in ERA_LINES:
    axC.axvline(x, **DASH_KW)
style_xaxis(axC, 1.5)
axC.set_yticks([0, 2, 4, 6, 8, 10])
axC.tick_params(axis='y', length=3.2, width=0.6, labelsize=TICK_FS, pad=0.5, color='#222')
rotate_ylabels(axC, 'left', BLUE_TXT)

axC2 = axC.twinx()
axC2.set_ylim(0, 20.79)
med = full_series(RATE_MED, 'RATE_MED')
q1 = full_series(RATE_Q1, 'RATE_Q1')
q3 = full_series(RATE_Q3, 'RATE_Q3')
wlo = full_series(RATE_WLO, 'RATE_WLO')
whi = full_series(RATE_WHI, 'RATE_WHI')
WH_KW = dict(colors='#555555', linewidths=0.55, linestyles=(0, (1, 1.3)), zorder=3)
axC2.vlines(weeks, wlo, q1, **WH_KW)
axC2.vlines(weeks, q3, whi, **WH_KW)
axC2.hlines(whi, weeks - 0.25, weeks + 0.25, colors='#777777', linewidths=0.5, zorder=3)
axC2.hlines(wlo, weeks - 0.25, weeks + 0.25, colors='#777777', linewidths=0.5, zorder=3)
axC2.bar(weeks, q3 - q1, bottom=q1, width=0.62, facecolor='white', edgecolor='#707070',
         linewidth=0.5, zorder=4)
axC2.hlines(med, weeks - 0.31, weeks + 0.31, colors='#303030', linewidths=0.9, zorder=5)
axC2.set_yticks([0, 5, 10, 15, 20])
axC2.tick_params(axis='y', length=3.2, width=0.6, labelsize=TICK_FS, pad=2.5, color='#222')
rotate_ylabels(axC2, 'right')
for ax in (axC, axC2):
    for s in ax.spines.values():
        s.set_linewidth(1.0)
        s.set_color('#222')

# ================================================================= titles, axis labels, legend
ov = fig.add_axes([0, 0, 1, 1], zorder=20)
ov.set_xlim(0, FIG_W)
ov.set_ylim(FIG_H, 0)
ov.axis('off')

TITLE_FS = 11.1
ov.text(33, 10.5, '(a) Estimated median weekly infection rates by variant', fontsize=TITLE_FS,
        ha='left', va='center')
ov.text(33, 340, '(b) Population immunity dynamics', fontsize=TITLE_FS, ha='left', va='center')
ov.text(33, 676, '(c) Transmissibility Rtx', fontsize=TITLE_FS, ha='left', va='center')

AX_FS = 8.4
for y in (318, 655, 990):
    ov.text(372, y, 'Week start (mm/dd/yy)', fontsize=AX_FS, ha='center', va='center')
ov.text(10, 160, 'Weekly infection rate (%)', fontsize=AX_FS, rotation=90, ha='center', va='center')
ov.text(10, 489, 'Population susceptibility (%)', fontsize=AX_FS, rotation=90, ha='center',
        va='center', color=BLUE_TXT)
ov.text(737, 489, 'Approximated infection\u2212 and vaccine\u2212induced immunity (%)', fontsize=AX_FS,
        rotation=90, ha='center', va='center')
ov.text(10, 825, 'Transmissibility (Rtx)', fontsize=AX_FS, rotation=90, ha='center', va='center',
        color=BLUE_TXT)
ov.text(737, 825, 'Estimated weekly infection rate (%)', fontsize=AX_FS, rotation=90, ha='center',
        va='center')

# legend: two columns of 12
LEG_X = [(518.3, 529), (617, 628)]
for k, (name, col) in enumerate(zip(VARIANTS, VARIANT_COLORS)):
    c, r = divmod(k, 12)
    sx, tx = LEG_X[c]
    yy = 32.3 + r * 14.76
    ov.add_patch(Rectangle((sx - 2.7, yy - 2.7), 5.4, 5.4, facecolor=col, edgecolor='none'))
    ov.text(tx, yy, name, fontsize=9, ha='left', va='center')

fig.savefig('out.png', dpi=100, facecolor='white')
